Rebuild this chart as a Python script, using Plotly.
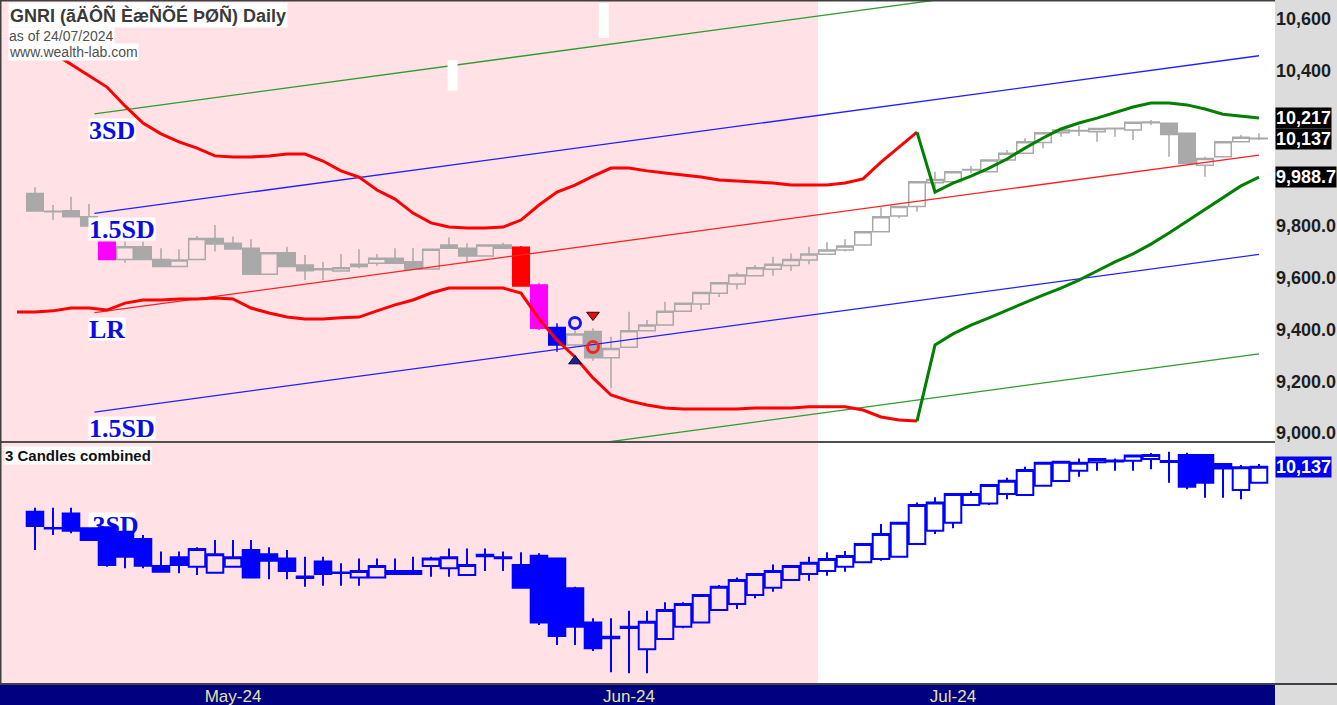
import plotly.graph_objects as go

# ---------------- DATA ----------------
# Upper pane: daily candles, bar index 0..68
up_open = [9926, 9857, 9859, 9836, 9737, 9671, 9720, 9671, 9643, 9671,
           9752, 9733, 9714, 9614, 9697, 9649, 9635, 9626, 9652, 9656,
           9675, 9662, 9634, 9727, 9714, 9684, 9727, 9718, 9572, 9408,
           9340, 9392, 9291, 9331, 9395, 9417, 9471, 9499, 9540, 9576,
           9608, 9633, 9647, 9669, 9691, 9707, 9727, 9778, 9839, 9875,
           9967, 9971, 10016, 10010, 10055, 10081, 10123, 10160, 10169, 10164,
           10178, 10171, 10199, 10197, 10158, 10035, 10068, 10126, 10139]
up_high = [9950, 9881, 9913, 9885, 9737, 9739, 9739, 9714, 9710, 9761,
           9804, 9759, 9749, 9697, 9720, 9688, 9662, 9692, 9710, 9692,
           9714, 9715, 9712, 9756, 9733, 9727, 9735, 9723, 9579, 9424,
           9405, 9405, 9372, 9469, 9437, 9507, 9501, 9543, 9581, 9620,
           9649, 9681, 9694, 9720, 9737, 9749, 9778, 9872, 9875, 9971,
           10010, 10010, 10032, 10055, 10094, 10139, 10160, 10177, 10186, 10180,
           10180, 10201, 10210, 10200, 10158, 10068, 10126, 10152, 10158]
up_low = [9858, 9823, 9836, 9800, 9671, 9658, 9671, 9643, 9643, 9671,
          9701, 9711, 9614, 9614, 9643, 9591, 9591, 9626, 9637, 9646,
          9656, 9633, 9634, 9714, 9662, 9684, 9714, 9568, 9398, 9314,
          9335, 9279, 9173, 9331, 9395, 9417, 9471, 9475, 9526, 9555,
          9608, 9608, 9626, 9652, 9691, 9701, 9727, 9778, 9830, 9855,
          9939, 9971, 10004, 10010, 10049, 10081, 10100, 10145, 10148, 10126,
          10145, 10132, 10190, 10068, 10042, 9990, 10068, 10126, 10132]
up_close = [9858, 9855, 9836, 9800, 9671, 9720, 9671, 9643, 9669, 9752,
            9730, 9711, 9614, 9697, 9643, 9627, 9631, 9639, 9643, 9675,
            9656, 9633, 9710, 9714, 9684, 9727, 9714, 9568, 9405, 9340,
            9383, 9291, 9327, 9395, 9417, 9471, 9501, 9543, 9581, 9611,
            9639, 9652, 9671, 9692, 9707, 9723, 9778, 9836, 9875, 9971,
            9980, 10010, 10018, 10055, 10081, 10126, 10160, 10171, 10167, 10177,
            10176, 10201, 10202, 10154, 10042, 10061, 10126, 10143, 10137]

# highlighted candles in the price pane
hl_idx = [4, 27, 28, 29]
hl_color = ["#FF00FF", "#FF0000", "#FF00FF", "#0000FF"]

# envelope bands, bar index -1..68 (red up to switch bar, green after)
band_start = -1
band_switch = 49
band_upper = [10538, 10500, 10469, 10426, 10380, 10337, 10264, 10198, 10156, 10125,
              10101, 10071, 10067, 10067, 10071, 10078, 10078, 10051, 10013, 9989,
              9939, 9904, 9850, 9812, 9796, 9792, 9792, 9796, 9823, 9881,
              9931, 9958, 9993, 10024, 10024, 10013, 10005, 9997, 9989, 9978,
              9974, 9970, 9966, 9958, 9958, 9958, 9966, 9982, 10047, 10105,
              10163, 9931, 9966, 9993, 10024, 10059, 10101, 10140, 10175, 10198,
              10217, 10237, 10260, 10275, 10275, 10268, 10252, 10232, 10224, 10217]
band_lower = [9468, 9468, 9472, 9483, 9483, 9475, 9502, 9514, 9514, 9518,
              9518, 9522, 9518, 9483, 9464, 9448, 9441, 9441, 9445, 9448,
              9472, 9495, 9514, 9541, 9560, 9560, 9560, 9560, 9541, 9441,
              9359, 9294, 9213, 9147, 9124, 9108, 9097, 9093, 9093, 9093,
              9093, 9097, 9097, 9097, 9101, 9101, 9101, 9089, 9062, 9050,
              9046, 9340, 9383, 9417, 9445, 9475, 9502, 9533, 9560, 9591,
              9626, 9661, 9692, 9730, 9773, 9819, 9866, 9912, 9955, 9988.7]

# linear regression channel
lr_x = [3.3, 68]
lr_y = [9465, 10074]
lr_sd = 256
channel_mult = [0, 1.5, -1.5, 3, -3]
channel_name = ["LR", "1.5SD", "1.5SD", "3SD", "3SD"]
channel_color = ["#FF2020", "#2020FF", "#2020FF", "#2E9B2E", "#2E9B2E"]

# signal markers
sig_x = [30, 31, 31, 30]
sig_y = [9425, 9332, 9456, 9278]
sig_symbol = ["circle-open", "circle-open", "triangle-down", "triangle-up"]
sig_color = ["#1515FF", "#FF2020", "#E01010", "#202090"]

# blank white label boxes near the top
blank_idx = [23.2, 31.6]
blank_lo = [10322, 10527]
blank_hi = [10441, 10662]

# Lower pane: "3 Candles combined"
lo_open = [9926, 9850, 9918, 9848, 9853, 9832, 9798, 9671, 9712, 9668,
           9640, 9668, 9747, 9726, 9707, 9622, 9692, 9641, 9618, 9618,
           9634, 9648, 9671, 9661, 9629, 9724, 9712, 9676, 9720, 9707,
           9567, 9406, 9340, 9386, 9281, 9329, 9387, 9407, 9465, 9493,
           9535, 9570, 9606, 9634, 9648, 9668, 9689, 9704, 9715, 9775,
           9837, 9874, 9958, 9965, 10009, 10004, 10048, 10070, 10118, 10158,
           10166, 10165, 10173, 10164, 10192, 10192, 10150, 10028, 10062]
lo_high = [9945, 9945, 9945, 9848, 9853, 9832, 9817, 9739, 9739, 9759,
           9793, 9793, 9793, 9759, 9747, 9715, 9715, 9684, 9707, 9707,
           9707, 9715, 9715, 9754, 9754, 9754, 9739, 9736, 9731, 9710,
           9574, 9426, 9426, 9462, 9462, 9501, 9501, 9535, 9582, 9617,
           9637, 9679, 9676, 9715, 9736, 9742, 9775, 9868, 9874, 9969,
           9994, 10009, 10023, 10051, 10085, 10137, 10156, 10162, 10176, 10175,
           10176, 10190, 10201, 10207, 10203, 10195, 10150, 10145, 10150]
lo_low = [9747, 9817, 9825, 9793, 9668, 9661, 9661, 9645, 9637, 9629,
          9640, 9668, 9618, 9609, 9609, 9574, 9579, 9579, 9579, 9618,
          9634, 9634, 9621, 9621, 9629, 9648, 9648, 9570, 9395, 9301,
          9301, 9273, 9173, 9168, 9168, 9329, 9379, 9407, 9465, 9470,
          9520, 9551, 9606, 9602, 9626, 9645, 9689, 9696, 9715, 9775,
          9821, 9848, 9958, 9958, 9984, 10004, 10048, 10070, 10090, 10118,
          10118, 10118, 10125, 10062, 10031, 9991, 9991, 9984, 10062]
lo_close = [9859, 9847, 9837, 9793, 9676, 9715, 9673, 9645, 9676, 9751,
            9726, 9712, 9618, 9696, 9648, 9615, 9634, 9639, 9648, 9671,
            9648, 9634, 9707, 9712, 9676, 9717, 9708, 9570, 9406, 9343,
            9387, 9286, 9333, 9381, 9410, 9465, 9493, 9535, 9574, 9606,
            9634, 9648, 9671, 9687, 9704, 9718, 9775, 9821, 9874, 9958,
            9969, 10009, 10009, 10051, 10071, 10122, 10156, 10160, 10156, 10173,
            10162, 10189, 10192, 10159, 10043, 10062, 10129, 10134, 10137]

# shaded (pink) period ends between these bars
shade_end = 43.5

# month tick labels
month_pos = [11, 33, 51]
month_lab = ["May-24", "Jun-24", "Jul-24"]

title_txt = "GNRI (ãÄÔÑ ÈæÑÕÉ ÞØÑ) Daily"
asof_txt = "as of 24/07/2024"
site_txt = "www.wealth-lab.com"
pane2_txt = "3 Candles combined"

# right axis ticks
ytick_vals = [10600, 10400, 9800, 9600, 9400, 9200, 9000]
ytick_text = ["10,600", "10,400", "9,800.0", "9,600.0", "9,400.0", "9,200.0", "9,000.0"]

# ---------------- LAYOUT GEOMETRY ----------------
W, H = 1337, 705
MR = 62
MB = 20
PW = W - MR
PH = H - MB


def pfrac(px):
    return (PH - px) / PH


up_dom = [pfrac(441), 1.0]
lo_dom = [pfrac(683), pfrac(443)]
x_range = [-1.944, 68.889]
up_range = [8969.1, 10673.4]
lo_range = [9122.8, 10248.2]
px_per_bar = PW / (x_range[1] - x_range[0])

GRAY = "#A9A9A9"
BLUE = "#0000FF"
PINK = "#FFE1E6"
LBL_BLUE = "#0B0BE6"


def fmt(v):
    return f"{v:,.0f}" if abs(v - round(v)) < 1e-9 else f"{v:,.1f}"


def up_paper(p):
    return up_dom[0] + (p - up_range[0]) / (up_range[1] - up_range[0]) * (up_dom[1] - up_dom[0])


fig = go.Figure()

# ---- upper candles ----
idx = list(range(len(up_open)))
gidx = [i for i in idx if i not in hl_idx]
fig.add_trace(go.Candlestick(
    x=gidx,
    open=[up_open[i] for i in gidx], high=[up_high[i] for i in gidx],
    low=[up_low[i] for i in gidx], close=[up_close[i] for i in gidx],
    increasing=dict(line=dict(color=GRAY, width=1.5), fillcolor="rgba(0,0,0,0)"),
    decreasing=dict(line=dict(color=GRAY, width=1.5), fillcolor=GRAY),
    xaxis="x", yaxis="y", showlegend=False, hoverinfo="skip"))
for i, c in zip(hl_idx, hl_color):
    fig.add_trace(go.Candlestick(
        x=[i], open=[up_open[i]], high=[up_high[i]], low=[up_low[i]], close=[up_close[i]],
        increasing=dict(line=dict(color=c, width=1.5), fillcolor=c),
        decreasing=dict(line=dict(color=c, width=1.5), fillcolor=c),
        xaxis="x", yaxis="y", showlegend=False, hoverinfo="skip"))

# ---- regression channel ----
for m, col in zip(channel_mult, channel_color):
    fig.add_trace(go.Scatter(x=lr_x, y=[v + m * lr_sd for v in lr_y], mode="lines",
                             line=dict(color=col, width=1.3), xaxis="x", yaxis="y",
                             showlegend=False, hoverinfo="skip"))

# ---- bands ----
bx = list(range(band_start, band_start + len(band_upper)))
k = band_switch - band_start
for arr in (band_upper, band_lower):
    fig.add_trace(go.Scatter(x=bx[:k + 1], y=arr[:k + 1], mode="lines",
                             line=dict(color="#FF0000", width=3), xaxis="x", yaxis="y",
                             showlegend=False, hoverinfo="skip"))
    fig.add_trace(go.Scatter(x=bx[k:], y=arr[k:], mode="lines",
                             line=dict(color="#008000", width=3), xaxis="x", yaxis="y",
                             showlegend=False, hoverinfo="skip"))

# ---- signals ----
for sx, sy, sym, col in zip(sig_x, sig_y, sig_symbol, sig_color):
    if sym.endswith("open"):
        mk = dict(symbol=sym, size=11, color=col, line=dict(color=col, width=3))
    else:
        mk = dict(symbol=sym, size=11, color=col,
                  line=dict(color="#400000" if "down" in sym else "#000040", width=1))
    fig.add_trace(go.Scatter(x=[sx], y=[sy], mode="markers", marker=mk,
                             xaxis="x", yaxis="y", showlegend=False, hoverinfo="skip"))

# ---- lower candles ----
fig.add_trace(go.Candlestick(
    x=idx, open=lo_open, high=lo_high, low=lo_low, close=lo_close,
    increasing=dict(line=dict(color=BLUE, width=2), fillcolor="rgba(0,0,0,0)"),
    decreasing=dict(line=dict(color=BLUE, width=2), fillcolor=BLUE),
    xaxis="x2", yaxis="y2", showlegend=False, hoverinfo="skip"))

# ---------------- SHAPES ----------------
shapes = []
# pink shaded period (both panes)
shapes.append(dict(type="rect", layer="below", xref="x", yref="paper",
                   x0=x_range[0] - 1, x1=shade_end, y0=lo_dom[0], y1=1,
                   fillcolor=PINK, line=dict(width=0)))
# lower 3SD label (falls inside the lower pane, beneath its candles)
lbl_y = up_paper(lr_y[0] - 3 * lr_sd)
shapes.append(dict(type="rect", layer="below", xref="x", yref="paper",
                   x0=lr_x[0] - 6 / px_per_bar, x1=lr_x[0] + 41 / px_per_bar,
                   y0=lbl_y - 22 / PH, y1=lbl_y - 1 / PH,
                   fillcolor="white", line=dict(width=0),
                   label=dict(text="<b>3SD</b>", textposition="middle left", padding=1,
                              font=dict(family="Liberation Serif", size=26, color=LBL_BLUE))))
# blank white boxes
for bi, blo, bhi in zip(blank_idx, blank_lo, blank_hi):
    shapes.append(dict(type="rect", layer="above", xref="x", yref="y",
                       x0=bi - 5 / px_per_bar, x1=bi + 5 / px_per_bar, y0=blo, y1=bhi,
                       fillcolor="white", line=dict(width=0)))
# navy date band
shapes.append(dict(type="rect", xref="paper", yref="paper", x0=0, x1=1,
                   y0=-MB / PH, y1=0, fillcolor="#000080", line=dict(width=0), layer="below"))
# separators / borders
shapes.append(dict(type="line", xref="paper", yref="paper", x0=0, x1=1,
                   y0=pfrac(442), y1=pfrac(442), line=dict(color="#505050", width=2)))
shapes.append(dict(type="line", xref="paper", yref="paper", x0=0, x1=W / PW,
                   y0=pfrac(684), y1=pfrac(684), line=dict(color="#404048", width=2)))
shapes.append(dict(type="line", xref="paper", yref="paper", x0=0, x1=1,
                   y0=pfrac(0.5), y1=pfrac(0.5), line=dict(color="#404040", width=2)))
shapes.append(dict(type="line", xref="paper", yref="paper", x0=0.5 / PW, x1=0.5 / PW,
                   y0=pfrac(684), y1=1, line=dict(color="#404040", width=2)))

# ---------------- ANNOTATIONS ----------------
ann = []
ann.append(dict(text=f"<b>{title_txt}</b>", xref="paper", yref="paper", x=0, y=1,
                xanchor="left", yanchor="top", xshift=8, yshift=-2, showarrow=False,
                bgcolor="white", borderpad=1, height=22,
                font=dict(family="Liberation Sans", size=18, color="#3A3A3A")))
ann.append(dict(text=asof_txt, xref="paper", yref="paper", x=0, y=1,
                xanchor="left", yanchor="top", xshift=8, yshift=-27, showarrow=False,
                bgcolor="white", borderpad=0, height=16,
                font=dict(family="Liberation Sans", size=14, color="#505050")))
ann.append(dict(text=site_txt, xref="paper", yref="paper", x=0, y=1,
                xanchor="left", yanchor="top", xshift=8, yshift=-43, showarrow=False,
                bgcolor="white", borderpad=0, height=16,
                font=dict(family="Liberation Sans", size=14, color="#505050")))
ann.append(dict(text=f"<b>{pane2_txt}</b>", xref="paper", yref="paper", x=0, y=lo_dom[1],
                xanchor="left", yanchor="top", xshift=4, yshift=-3, showarrow=False,
                bgcolor="white", borderpad=0, height=17,
                font=dict(family="Liberation Sans", size=15, color="#111111")))
# channel labels (upper pane)
for m, nm in zip(channel_mult, channel_name):
    yv = lr_y[0] + m * lr_sd
    if up_range[0] <= yv <= up_range[1]:
        ann.append(dict(text=f"<b>{nm}</b>", xref="x", yref="y", x=lr_x[0], y=yv,
                        xanchor="left", yanchor="top", xshift=-6, yshift=-4,
                        showarrow=False, bgcolor="white", borderpad=0, height=22,
                        font=dict(family="Liberation Serif", size=26, color=LBL_BLUE)))
# last-value boxes
for v, bg, ax in [(band_upper[-1], "black", "y"), (up_close[-1], "black", "y"),
                  (band_lower[-1], "black", "y"), (lo_close[-1], "#0000F0", "y2")]:
    ann.append(dict(text=f"<b>{fmt(v)}</b>", xref="paper", yref=ax, x=1, y=v,
                    xanchor="left", yanchor="middle", xshift=0, showarrow=False,
                    bgcolor=bg, borderpad=0, height=20,
                    font=dict(family="Liberation Sans", size=18, color="white")))

fig.update_layout(
    width=W, height=H,
    margin=dict(l=0, r=MR, t=0, b=MB, pad=0, autoexpand=False),
    paper_bgcolor="#DCDCDC", plot_bgcolor="white",
    boxgap=0.08, boxgroupgap=0,
    showlegend=False, hovermode=False,
    shapes=shapes, annotations=ann,
    xaxis=dict(domain=[0, 1], anchor="y", range=x_range, showgrid=False, zeroline=False,
               showticklabels=False, ticks="", automargin=False,
               rangeslider=dict(visible=False)),
    yaxis=dict(domain=up_dom, anchor="x", range=up_range, side="right", showgrid=False,
               zeroline=False, ticks="", tickvals=ytick_vals, ticktext=ytick_text,
               automargin=False,
               tickfont=dict(family="Liberation Sans", size=18, color="#1E1E1E", weight="bold")),
    xaxis2=dict(domain=[0, 1], anchor="y2", range=x_range, showgrid=False, zeroline=False,
                ticks="", tickvals=month_pos, ticktext=month_lab, automargin=False,
                ticklabelstandoff=1,
                tickfont=dict(family="Liberation Sans", size=17, color="#E6E2A6"),
                rangeslider=dict(visible=False)),
    yaxis2=dict(domain=lo_dom, anchor="x2", range=lo_range, side="right", showgrid=False,
                zeroline=False, showticklabels=False, ticks="", automargin=False),
)

fig.write_html("out.html", config={"displayModeBar": False},
               post_script="document.body.style.margin='0px';document.body.style.overflow='hidden';")
